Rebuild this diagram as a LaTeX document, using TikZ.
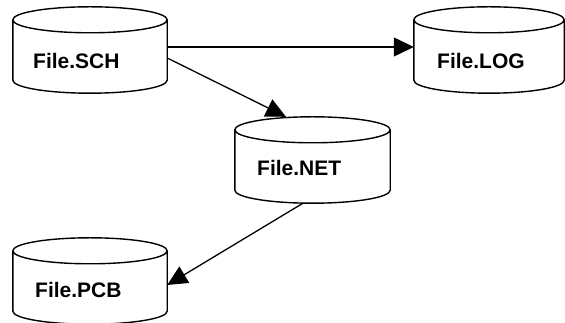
\documentclass[tikz,border=0pt]{standalone}
\usepackage{fontspec}
\setmainfont{Liberation Sans}
\usetikzlibrary{arrows.meta,calc}
\begin{document}
\begin{tikzpicture}[x=1pt,y=1pt,
  cylbox/.style={minimum width=154pt, minimum height=86pt, inner sep=0pt, draw=none},
  cylline/.style={line width=1.4pt, line join=round},
  lbl/.style={font=\bfseries\fontsize{21}{21}\selectfont, anchor=west, inner sep=0pt},
  conn/.style={line width=1.3pt, -{Triangle[length=20pt,width=19pt]}}]
\useasboundingbox (0,0) rectangle (565,323);
\node[cylbox] (sch) at (90,273) {};
\node[cylbox, minimum width=150pt] (log) at (489,273) {};
\node[cylbox, minimum width=155pt] (net) at (312.5,163) {};
\node[cylbox] (pcb) at (90,42) {};
\foreach \n in {sch,log,net,pcb}{
  \path (\n.north west) coordinate (nw) (\n.south east) coordinate (se) (\n.center) coordinate (c);
  \draw[cylline] let \p1=(nw), \p2=(se), \p3=(c), \n1={(\x2-\x1)/2} in
    (\x3,\y1-13pt) ellipse [x radius=\n1, y radius=13pt]
    (\x1,\y1-13pt) -- (\x1,\y2+13pt) arc [start angle=180, end angle=360, x radius=\n1, y radius=13pt] -- (\x2,\y1-13pt);
}
\node[lbl] (tsch) at (33,262) {File.SCH};
\node[lbl] (tlog) at (437,262) {File.LOG};
\node[lbl] (tnet) at (257,155.5) {File.NET};
\node[lbl] (tpcb) at (35,33) {File.PCB};
\draw[conn] ([yshift=3pt]sch.east) -- ([yshift=3pt]log.west);
\draw[conn] ([yshift=-8pt]sch.east) -- ([xshift=-26.5pt]net.north);
\draw[conn] ([xshift=-9.5pt]net.south) -- ([yshift=-4pt]pcb.east);
\end{tikzpicture}
\end{document}
